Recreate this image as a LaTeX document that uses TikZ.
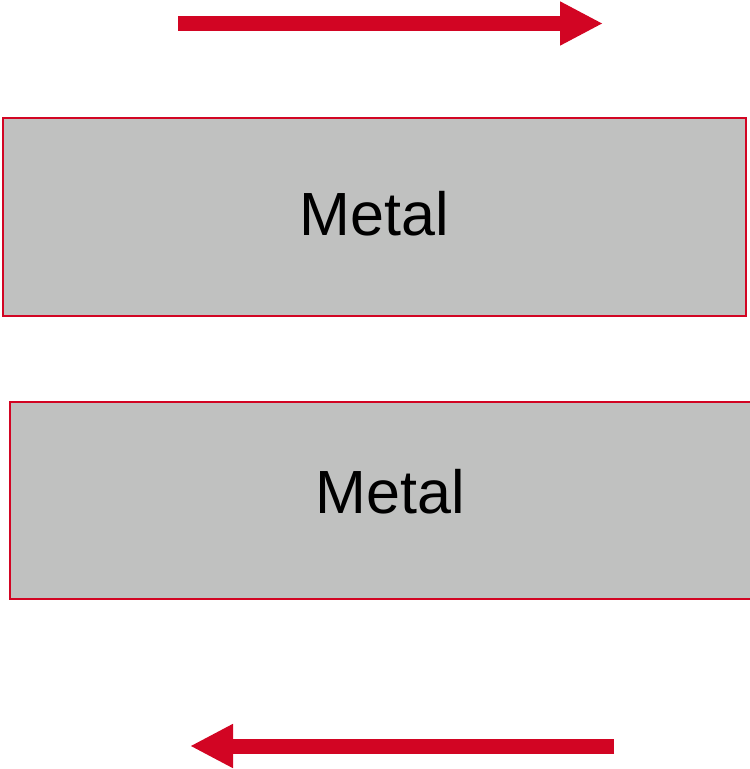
\documentclass[tikz,border=0pt]{standalone}
\usepackage{fontspec}
\setmainfont{Liberation Sans}
\usetikzlibrary{arrows.meta}
\definecolor{mred}{RGB}{210,5,35}
\definecolor{mgray}{RGB}{192,193,192}
\tikzset{
  metalbox/.style={draw=mred, fill=mgray, line width=2pt, rectangle, inner sep=0pt},
  metaltext/.style={anchor=base, inner sep=0pt, font=\fontsize{61}{61}\selectfont, text=black},
  bigarrow/.style={draw=mred, line width=15pt, -{Triangle[length=43pt,width=41pt]}},
}
\begin{document}
\begin{tikzpicture}[x=1pt,y=-1pt]
\clip (0,0) rectangle (750,769);
\fill[white] (0,0) rectangle (750,769);
\coordinate (a1s) at (178,23.5);
\coordinate (a1e) at (603,23.5);
\coordinate (a2s) at (614,746);
\coordinate (a2e) at (190,746);
\draw[bigarrow] (a1s) -- (a1e);
\draw[bigarrow] (a2s) -- (a2e);
\node[metalbox, minimum width=743pt, minimum height=198pt] (m1) at (374.5,217) {};
\node[metaltext] (t1) at (374.5,235) {Metal};
\node[metalbox, minimum width=762pt, minimum height=197pt] (m2) at (391,500.5) {};
\node[metaltext] (t2) at (390,513) {Metal};
\end{tikzpicture}
\end{document}
